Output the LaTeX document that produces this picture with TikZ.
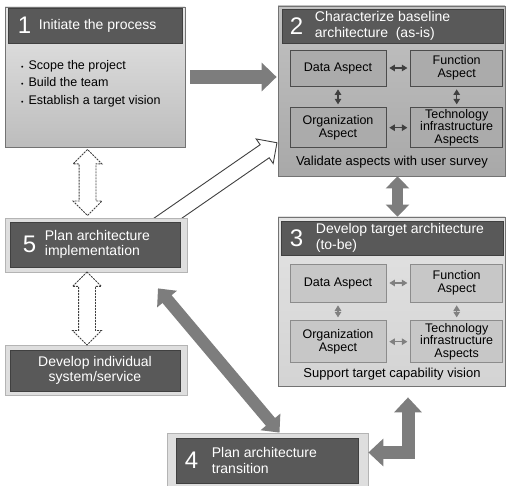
\documentclass[tikz,border=0pt]{standalone}
\usepackage{fontspec}
\setmainfont{Liberation Sans}
\usetikzlibrary{positioning,arrows.meta,calc,backgrounds,shapes.arrows}
\definecolor{headgray}{HTML}{595959}
\definecolor{blockgray}{HTML}{7D7D7D}
\definecolor{frameline}{HTML}{B4B4B4}
\newcommand{\listdot}{{\fontsize{7}{7}\selectfont\textbullet}\hspace{5pt}}
\tikzset{
  stagebox/.style={draw=black!55, line width=0.8pt, inner sep=0pt},
  stagehead/.style={fill=headgray, draw=black!75, line width=0.6pt, inner sep=0pt},
  stageframe/.style={fill=black!13, draw=frameline, line width=0.8pt, inner sep=0pt},
  stagenum/.style={text=white, font=\fontsize{24}{24}\selectfont, inner sep=0pt, anchor=west},
  stagetitle/.style={text=white, font=\fontsize{14}{15.5}\selectfont, align=left, inner sep=0pt, anchor=west},
  aspectbox/.style={draw, line width=0.7pt, align=center, inner sep=0pt,
    font=\fontsize{12.5}{13}\selectfont},
  aspectarrow/.style={line width=1.1pt, {Triangle[length=5.5pt,width=6.5pt]}-{Triangle[length=5.5pt,width=6.5pt]},
    shorten <=3pt, shorten >=3pt},
  blockarrow/.style={draw=blockgray, line width=14pt, line join=miter},
  hollowdbl/.style={double arrow, draw=black!75, fill=white, dash pattern=on 2pt off 1pt,
    line width=0.9pt, inner xsep=0pt, inner ysep=8pt, double arrow head extend=6pt, rotate=90},
  hollowarrow/.style={single arrow, draw=black!75, fill=white, line width=0.9pt,
    inner xsep=0pt, inner ysep=7.5pt, single arrow head extend=7pt},
}

\begin{document}
\begin{tikzpicture}[x=1pt,y=-1pt]
  \useasboundingbox (0,0) rectangle (509,486);
  % 1 initiate
  \node[stagebox, top color=black!10, bottom color=black!26, minimum width=180pt, minimum height=140pt] (init) at (95,77) {};
  \node[stagehead, minimum width=174pt, minimum height=35pt] (init-hd) at (95,25.5) {};
  \node[stagenum] (init-num) at ([xshift=10pt]init-hd.west) {1};
  \node[stagetitle] (init-title) at ([xshift=31pt]init-hd.west) {Initiate the process};
  \node[anchor=north west, align=left, inner sep=0pt, font=\fontsize{12.5}{17.5}\selectfont] (init-list) at (21,60)
    {\listdot Scope the project\\ \listdot Build the team\\ \listdot Establish a target vision};

  % 2 baseline
  \node[stagebox, top color=black!24, bottom color=black!34, minimum width=227pt, minimum height=170pt] (base) at (391.5,91) {};
  \node[stagehead, minimum width=221pt, minimum height=34pt] (base-hd) at (392.5,26) {};
  \node[stagenum] (base-num) at ([xshift=8pt]base-hd.west) {2};
  \node[stagetitle] (base-title) at ([xshift=33pt]base-hd.west) {Characterize baseline\\architecture~~(as-is)};
  \node[aspectbox, fill=black!33, draw=black!70, minimum width=96pt, minimum height=36pt] (b-data) at (338,68) {Data Aspect};
  \node[aspectbox, fill=black!33, draw=black!70, minimum width=92pt, minimum height=36pt, right=24pt of b-data] (b-func) {Function\\Aspect};
  \node[aspectbox, fill=black!33, draw=black!70, minimum width=96pt, minimum height=40pt, below=21pt of b-data] (b-org) {Organization\\Aspect};
  \node[aspectbox, fill=black!33, draw=black!70, minimum width=92pt, minimum height=40pt, right=24pt of b-org, font=\fontsize{12.5}{12.5}\selectfont] (b-tech) {Technology\\infrastructure\\Aspects};
  \node[font=\fontsize{13}{13}\selectfont] (base-note) at (392,162) {Validate aspects with user survey};
  \draw[aspectarrow, black!75] (b-data) -- (b-func);
  \draw[aspectarrow, black!75] (b-org) -- (b-tech);
  \draw[aspectarrow, black!75] (b-data) -- (b-org);
  \draw[aspectarrow, black!75] (b-func) -- (b-tech);

  % 3 target
  \node[stagebox, top color=black!11, bottom color=black!17, minimum width=227pt, minimum height=169pt] (target) at (391.5,301.5) {};
  \node[stagehead, minimum width=222pt, minimum height=34pt] (target-hd) at (392,238) {};
  \node[stagenum] (target-num) at ([xshift=9pt]target-hd.west) {3};
  \node[stagetitle] (target-title) at ([xshift=35pt]target-hd.west) {Develop target architecture\\(to-be)};
  \node[aspectbox, fill=black!22, draw=black!45, minimum width=96pt, minimum height=38pt] (t-data) at (338,283) {Data Aspect};
  \node[aspectbox, fill=black!22, draw=black!45, minimum width=92pt, minimum height=38pt, right=24pt of t-data] (t-func) {Function\\Aspect};
  \node[aspectbox, fill=black!22, draw=black!45, minimum width=96pt, minimum height=42pt, below=18pt of t-data] (t-org) {Organization\\Aspect};
  \node[aspectbox, fill=black!22, draw=black!45, minimum width=92pt, minimum height=42pt, right=24pt of t-org, font=\fontsize{12.5}{12.5}\selectfont] (t-tech) {Technology\\infrastructure\\Aspects};
  \node[font=\fontsize{13}{13}\selectfont] (target-note) at (392,374) {Support target capability vision};
  \draw[aspectarrow, black!50] (t-data) -- (t-func);
  \draw[aspectarrow, black!50] (t-org) -- (t-tech);
  \draw[aspectarrow, black!50] (t-data) -- (t-org);
  \draw[aspectarrow, black!50] (t-func) -- (t-tech);

  % 5 implementation, individual systems, 4 transition
  \node[stageframe, minimum width=182pt, minimum height=54pt] (impl) at (96,245) {};
  \node[stagehead, minimum width=170pt, minimum height=45pt] (impl-hd) at (95,244.5) {};
  \node[stagenum] (impl-num) at ([xshift=13pt]impl-hd.west) {5};
  \node[stagetitle] (impl-title) at ([xshift=35pt]impl-hd.west) {Plan architecture\\implementation};
  \node[stageframe, minimum width=182pt, minimum height=50pt] (indiv) at (96,370) {};
  \node[stagehead, minimum width=170pt, minimum height=41pt, text=white, align=center, font=\fontsize{14}{15}\selectfont] (indiv-hd) at (95,370.5) {Develop individual\\system/service};
  \node[stageframe, minimum width=201pt, minimum height=53pt] (trans) at (267.5,459.5) {};
  \node[stagehead, minimum width=182pt, minimum height=45pt] (trans-hd) at (267,460.5) {};
  \node[stagenum] (trans-num) at ([xshift=9pt]trans-hd.west) {4};
  \node[stagetitle] (trans-title) at ([xshift=36pt]trans-hd.west) {Plan architecture\\transition};

  % block arrows
  \draw[blockarrow, -{Triangle[length=15pt,width=28pt]}, shorten <=5pt, shorten >=1pt] (init.east) -- (init.east -| base.west);
  \draw[blockarrow, line width=11pt, {Triangle[length=12pt,width=23pt]}-{Triangle[length=12pt,width=23pt]}] ([xshift=6pt]base.south) -- ([xshift=6pt]target.north);
  \draw[blockarrow, line width=12pt, {Triangle[length=14pt,width=25pt]}-{Triangle[length=14pt,width=25pt]}] ([xshift=62pt,yshift=-16pt]impl.south) -- ([xshift=12pt]trans.north);
  \draw[blockarrow, line width=13pt, {Triangle[length=15pt,width=27pt]}-{Triangle[length=15pt,width=27pt]}] ([xshift=16.5pt,yshift=-11pt]target.south) |- ([yshift=7pt]trans.east);

  % hollow arrows
  \node[hollowdbl, minimum height=66pt] (init-impl) at ($([xshift=-8pt]init.south)!0.5!([xshift=-8pt]impl.north)$) {};
  \node[hollowdbl, minimum height=73pt] (impl-indiv) at ($([xshift=-9pt]impl.south)!0.5!([xshift=-9pt]indiv.north)$) {};
  \coordinate (link-tail) at ([xshift=54pt,yshift=-13pt]impl.north);
  \coordinate (link-tip) at ([xshift=-1pt,yshift=-52pt]base.west);
  \begin{scope}[on background layer]
    \path let \p1=($(link-tip)-(link-tail)$), \n1={atan2(\y1,\x1)}, \n2={veclen(\x1,\y1)} in
      node[hollowarrow, rotate=\n1, minimum height=\n2, anchor=tail] (impl-base) at (link-tail) {};
  \end{scope}
\end{tikzpicture}
\end{document}
